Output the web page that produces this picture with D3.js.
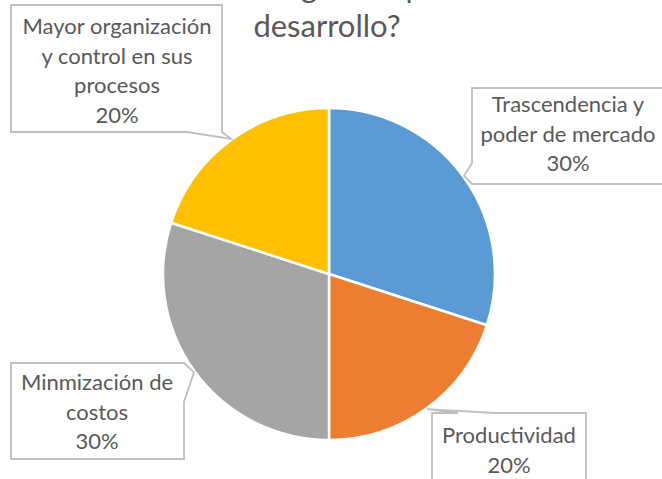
<!DOCTYPE html>
<html>
<head>
<meta charset="utf-8">
<script src="https://cdn.jsdelivr.net/npm/d3@7"></script>
<style>
    body { margin: 0; background: #fff; }
    svg { display: block; font-family: Lato, "Noto Sans", sans-serif; }
</style>
</head>
<body>
<div id="chart"></div>
<script>
// Data
const categories = ["Trascendencia y poder de mercado", "Productividad", "Minmización de costos", "Mayor organización y control en sus procesos"];
const values = [30, 20, 30, 20];
const labelLines = [
    ["Trascendencia y", "poder de mercado", "30%"],
    ["Productividad", "20%"],
    ["Minmización de", "costos", "30%"],
    ["Mayor organización", "y control en sus", "procesos", "20%"]
];
// the title runs off the top of the picture, only its last line is fully visible
const titleLines = ["¿Qué beneficios le", "otorga este plan al", "desarrollo?"];
const colors = ["#5b9bd5", "#ed7d31", "#a5a5a5", "#ffc000"];

const width = 662, height = 479;
const cx = 329, cy = 274, radius = 166;
const fontSize = 22, lineGap = 29.5;

// callout boxes: [x0, y0, x1, y1], which side the pointer leaves from and its base
const boxes = [
    { x0: 472, y0: 88, x1: 668, y1: 184, side: "left", b0: 163, b1: 184, tx: 568, ty: 112 },
    { x0: 432, y0: 413, x1: 586, y1: 492, side: "top", b0: 458, b1: 495, tx: 509, ty: 443 },
    { x0: 11, y0: 363, x1: 184, y1: 459, side: "right", b0: 363, b1: 402, tx: 97, ty: 390 },
    { x0: 11, y0: 5, x1: 222, y1: 132, side: "bottom", b0: 187, b1: 222, tx: 117, ty: 34 }
];

const svg = d3.select("#chart")
    .append("svg")
    .attr("width", width)
    .attr("height", height);

// Title
svg.append("text")
    .attr("x", 328)
    .attr("y", -44)
    .attr("text-anchor", "middle")
    .attr("font-size", 31)
    .attr("fill", "#595959")
    .text(titleLines[0]);

const t1 = svg.append("text")
    .attr("y", -2)
    .attr("font-size", 31)
    .attr("fill", "#595959")
    .text(titleLines[1]);
// line up the "g" with where it sits in the picture
const gi = titleLines[1].indexOf("g");
const gx = t1.node().getStartPositionOfChar(gi).x;
t1.attr("x", 301 - gx);

svg.append("text")
    .attr("x", 327)
    .attr("y", 37)
    .attr("text-anchor", "middle")
    .attr("font-size", 31)
    .attr("fill", "#595959")
    .text(titleLines[2]);

// Pie
const pie = d3.pie().sort(null).value(d => d);
const arcs = pie(values);
const arc = d3.arc().innerRadius(0).outerRadius(radius);
const tipArc = d3.arc().innerRadius(radius + 1).outerRadius(radius + 1);

const g = svg.append("g")
    .attr("transform", "translate(" + cx + "," + cy + ")");

g.selectAll("path")
    .data(arcs)
    .enter()
    .append("path")
    .attr("d", arc)
    .attr("fill", (d, i) => colors[i])
    .attr("stroke", "#fff")
    .attr("stroke-width", 2.5)
    .attr("stroke-linejoin", "round");

// Callouts
function calloutPath(b, tip) {
    const p = d3.path();
    if (b.side === "left") {
        p.moveTo(b.x0, b.y0); p.lineTo(b.x1, b.y0); p.lineTo(b.x1, b.y1); p.lineTo(b.x0, b.y1);
        p.lineTo(tip[0], tip[1]); p.lineTo(b.x0, b.b0);
    } else if (b.side === "top") {
        p.moveTo(b.x0, b.y0); p.lineTo(b.b0, b.y0); p.lineTo(tip[0], tip[1]); p.lineTo(b.b1, b.y0);
        p.lineTo(b.x1, b.y0); p.lineTo(b.x1, b.y1); p.lineTo(b.x0, b.y1);
    } else if (b.side === "right") {
        p.moveTo(b.x0, b.y0); p.lineTo(b.x1, b.y0); p.lineTo(tip[0], tip[1]); p.lineTo(b.x1, b.b1);
        p.lineTo(b.x1, b.y1); p.lineTo(b.x0, b.y1);
    } else {
        p.moveTo(b.x0, b.y0); p.lineTo(b.x1, b.y0); p.lineTo(b.x1, b.y1); p.lineTo(tip[0], tip[1]);
        p.lineTo(b.b0, b.y1); p.lineTo(b.x0, b.y1);
    }
    p.closePath();
    return p.toString();
}

arcs.forEach((d, i) => {
    const b = boxes[i];
    const c = tipArc.centroid(d);
    const tip = [c[0] + cx, c[1] + cy];

    svg.append("path")
        .attr("d", calloutPath(b, tip))
        .attr("fill", "#fff")
        .attr("stroke", "#bfbfbf")
        .attr("stroke-width", 1.8)
        .attr("stroke-linejoin", "miter");

    svg.append("text")
        .attr("text-anchor", "middle")
        .attr("font-size", fontSize)
        .attr("fill", "#595959")
        .selectAll("tspan")
        .data(labelLines[i])
        .enter()
        .append("tspan")
        .attr("x", b.tx)
        .attr("y", (l, j) => b.ty + j * lineGap)
        .text(l => l);
});
</script>
</body>
</html>
